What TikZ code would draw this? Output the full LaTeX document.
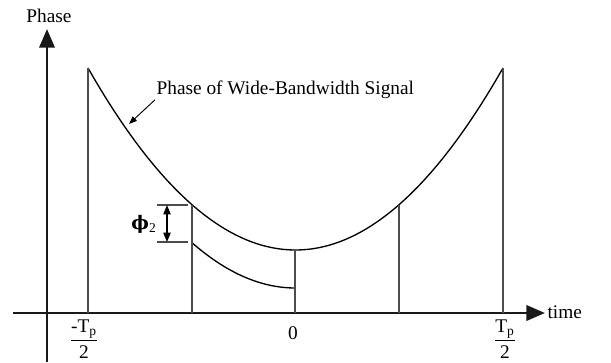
\documentclass[tikz,border=0pt]{standalone}
\usepackage{amsmath}
\usepackage{fontspec}
\setmainfont{Liberation Serif}
\newfontfamily\greekfont{DejaVu Serif}
\usepackage{tikz}
\usetikzlibrary{arrows.meta,positioning,calc}

\begin{document}
\begin{tikzpicture}[
  x=0.75pt, y=-0.75pt,
  every node/.style={font=\fontsize{14.5}{16}\selectfont, inner sep=1pt},
  axis/.style={line width=2pt, color=black!90, -{Triangle[length=14pt,width=11.5pt]}},
  guide/.style={line width=0.8pt, color=black!70},
  curve/.style={line width=1pt, color=black},
  dimarrow/.style={line width=0.9pt, {Triangle[length=7pt,width=5.5pt]}-{Triangle[length=7pt,width=5.5pt]}},
  tickline/.style={line width=0.8pt, color=black!70},
  callout/.style={line width=0.7pt, -{Triangle[length=6pt,width=4.5pt]}}
]
  \useasboundingbox (0,0) rectangle (611,362);

  % axes
  \coordinate (xstart) at (13,313);
  \coordinate (xend)   at (545,313);
  \coordinate (ystart) at (47,362);
  \coordinate (yend)   at (47,29);
  \draw[axis] (xstart) -- (xend);
  \draw[axis] (ystart) -- (yend);
  \node[anchor=west] (tlabel) at (546,312) {time};
  \node (plabel) at (49,16) {Phase};

  % phase curves
  \draw[curve] plot[domain=88:503, samples=80] (\x, {250-(0.06502*(\x-295.5))^2});
  \draw[curve] plot[domain=192:295.5, samples=40] (\x, {288-(0.06502*(\x-295.5))^2});

  % vertical guides
  \coordinate (ltop) at (88,68);
  \coordinate (rtop) at (503,68);
  \coordinate (atop) at (192,204.7);
  \coordinate (mtop) at (295,250);
  \coordinate (btop) at (399,204.7);
  \foreach \p in {ltop,rtop,atop,mtop,btop}
    \draw[guide] (\p) -- (\p |- xstart);

  % time labels
  \node (lo)   at (84,339)  {$\dfrac{\mbox{-T\textsubscript{p}}}{\mbox{2}}$};
  \node (zero) at (293,333) {0};
  \node (hi)   at (505,339) {$\dfrac{\mbox{T\textsubscript{p}}}{\mbox{2}}$};

  % phi_2 offset
  \coordinate (dtop) at (157,205);
  \coordinate (dbot) at (157,242);
  \draw[tickline] (dtop) -- ++(31,0);
  \draw[tickline] (dbot) -- ++(31,0);
  \draw[dimarrow] ($(dtop)+(10,0)$) -- ($(dbot)+(10,0)$);
  \node (phi) at (144,224) {{\greekfont\fontsize{14}{16}\selectfont\bfseries ϕ}\textsubscript{2}};

  % callout
  \node[anchor=base west] (sig) at (155,94) {Phase of Wide-Bandwidth Signal};
  \coordinate (hit) at (129,124);
  \draw[callout] (sig.south west) -- (hit);
\end{tikzpicture}
\end{document}
